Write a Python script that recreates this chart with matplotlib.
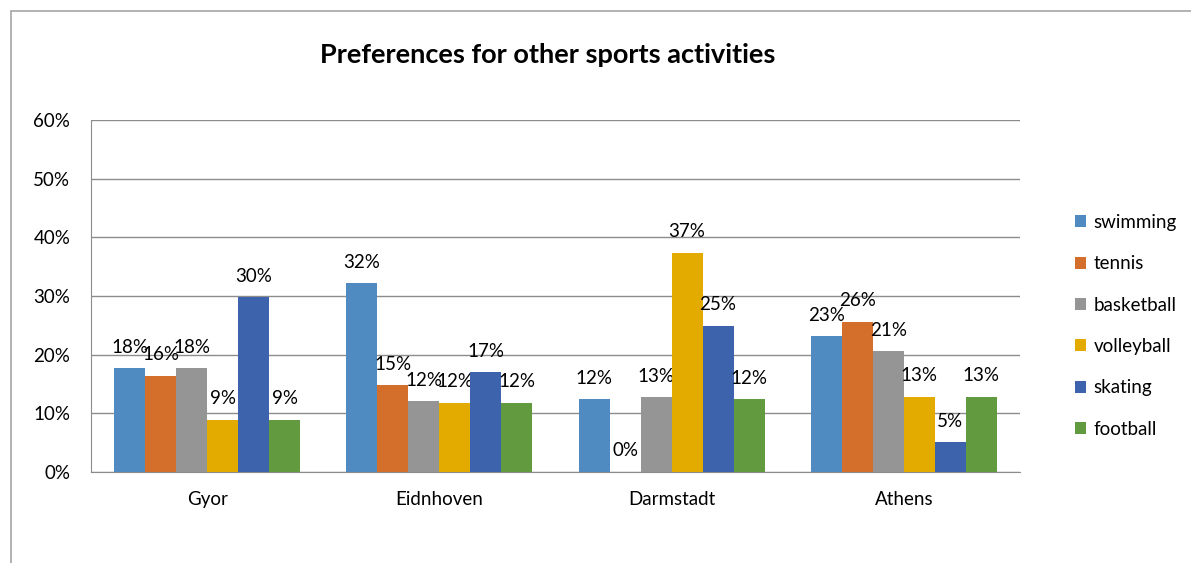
import matplotlib.pyplot as plt
import numpy as np
from matplotlib.patches import Rectangle

plt.rcParams['font.family'] = ['Lato', 'DejaVu Sans']

cities = ['Gyor', 'Eidnhoven', 'Darmstadt', 'Athens']
sports = ['swimming', 'tennis', 'basketball', 'volleyball', 'skating', 'football']
colors = ['#4F8BC0', '#D36E2B', '#959595', '#E3AA00', '#3D63AC', '#629B3F']

# share per city
swimming = [0.177, 0.322, 0.124, 0.231]
tennis = [0.164, 0.148, 0.0, 0.256]
basketball = [0.177, 0.121, 0.127, 0.206]
volleyball = [0.089, 0.118, 0.374, 0.128]
skating = [0.298, 0.170, 0.249, 0.051]
football = [0.089, 0.118, 0.124, 0.128]
series = [swimming, tennis, basketball, volleyball, skating, football]

fig = plt.figure(figsize=(11.91, 5.63), dpi=100)
ax = fig.add_axes([91/1191, 1 - 472/563, 929/1191, 352/563])

# outer chart border (cut off at right/bottom)
fig.patches.append(Rectangle((11/1191, -0.1), 1.2, 1.1 - 11/563, transform=fig.transFigure,
                             fill=False, edgecolor='#A6A6A6', linewidth=1.2))

fs = 13.5
x = np.arange(len(cities))
w = 0.8 / len(sports)
for i, (name, vals) in enumerate(zip(sports, series)):
    pos = x - 0.4 + w * (i + 0.5)
    bars = ax.bar(pos, vals, width=w, color=colors[i], label=name, zorder=3)
    for b, v in zip(bars, vals):
        ax.annotate(f'{round(v * 100):.0f}%', (b.get_x() + b.get_width() / 2, v),
                    xytext=(0, 9), textcoords='offset points', ha='center', va='bottom',
                    fontsize=fs, color='#000000')

ax.set_xlim(-0.5, 3.5)
ax.set_ylim(0, 0.6)
ticks = np.arange(0, 0.61, 0.1)
ax.set_yticks(ticks)
ax.set_yticklabels([f'{round(t * 100)}%' for t in ticks], fontsize=fs)
ax.set_xticks(x)
ax.set_xticklabels(cities, fontsize=fs)
ax.tick_params(axis='x', length=0, pad=14)
ax.tick_params(axis='y', length=0, pad=15)
ax.grid(axis='y', color='#8C8C8C', linewidth=1, zorder=0)
for s in ['top', 'right']:
    ax.spines[s].set_visible(False)
ax.spines['left'].set_color('#8C8C8C')
ax.spines['bottom'].set_color('#8C8C8C')

fig.text(548/1191, 1 - 55/563, 'Preferences for other sports activities', ha='center', va='center',
         fontsize=19.5, fontweight='bold')

fig.legend(loc='upper left', bbox_to_anchor=(1058/1191, 1 - 197/563), frameon=False,
           fontsize=fs, handlelength=0.6, handleheight=0.6, handletextpad=0.4, labelspacing=1.3)

fig.savefig('out.png', dpi=100)
